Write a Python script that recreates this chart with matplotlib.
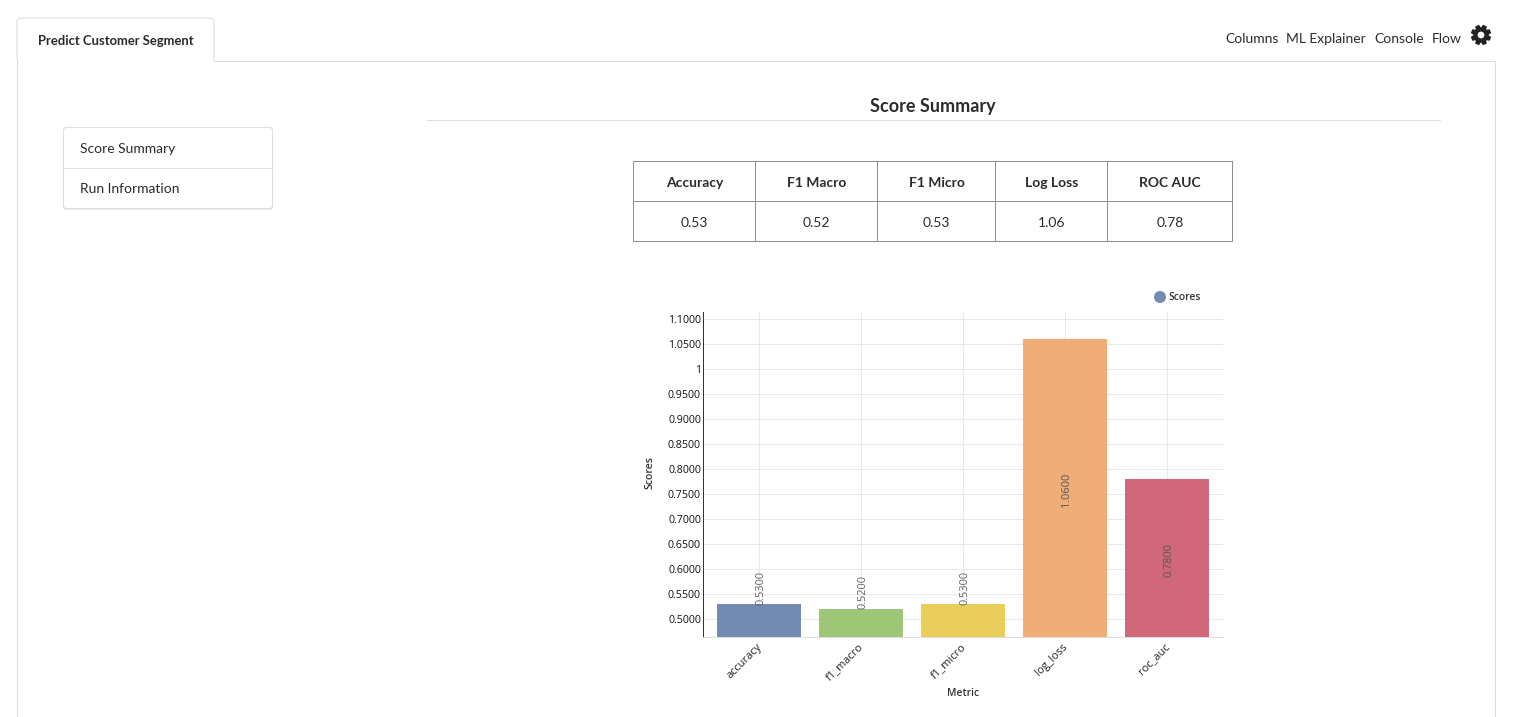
import matplotlib
matplotlib.use("Agg")
import math
import matplotlib.pyplot as plt
from matplotlib.patches import FancyBboxPatch, Circle, PathPatch
from matplotlib.path import Path

metrics = ["accuracy", "f1_macro", "f1_micro", "log_loss", "roc_auc"]
scores = [0.53, 0.52, 0.53, 1.06, 0.78]
bar_colors = ["#738ab1", "#9dc777", "#e9ce5b", "#efad78", "#d0677b"]
y_ticks = [0.50, 0.55, 0.60, 0.65, 0.70, 0.75, 0.80, 0.85, 0.90, 0.95, 1.00, 1.05, 1.10]
y_tick_labels = ["0.5000", "0.5500", "0.6000", "0.6500", "0.7000", "0.7500", "0.8000",
                 "0.8500", "0.9000", "0.9500", "1", "1.0500", "1.1000"]
table_headers = ["Accuracy", "F1 Macro", "F1 Micro", "Log Loss", "ROC AUC"]
table_values = ["0.53", "0.52", "0.53", "1.06", "0.78"]
nav_links = ["Columns", "ML Explainer", "Console", "Flow"]
side_items = ["Score Summary", "Run Information"]

W, H = 1519, 717
fig = plt.figure(figsize=(W / 100, H / 100), dpi=100, facecolor="white")

# Page chrome, in pixel coordinates
ui = fig.add_axes([0, 0, 1, 1])
ui.set_xlim(0, W)
ui.set_ylim(H, 0)
ui.axis("off")
LATO = "Lato"
DARK = "#2b2b2b"
BORDER = "#dddddd"
LW = 0.72

ui.plot([17, 17], [61, H], color=BORDER, lw=LW)
ui.plot([1495, 1495], [61, H], color=BORDER, lw=LW)
ui.plot([214, 1495], [61, 61], color=BORDER, lw=LW)
ui.add_patch(PathPatch(Path(
    [(17, 61), (17, 22), (17, 18), (21, 18), (210, 18), (214, 18), (214, 22), (214, 61)],
    [Path.MOVETO, Path.LINETO, Path.CURVE3, Path.CURVE3, Path.LINETO, Path.CURVE3, Path.CURVE3, Path.LINETO]),
    fc="white", ec=BORDER, lw=LW))
ui.text(38, 41, "Predict Customer Segment", family=LATO, weight="bold", fontsize=9.4,
        color=DARK, va="center", ha="left")

for label, x in zip(nav_links, [1226, 1287, 1374.5, 1432]):
    ui.text(x - 0.5, 39, label, family=LATO, fontsize=10, color=DARK, va="center", ha="left")

# Settings icon
gear_cx, gear_cy, teeth = 1481, 35, 8
verts, codes = [], []
for i in range(teeth):
    a = 2 * math.pi * i / teeth + math.pi / 8
    for da, r in [(-0.36, 7.6), (-0.2, 10.4), (0.2, 10.4), (0.36, 7.6)]:
        verts.append((gear_cx + r * math.cos(a + da), gear_cy + r * math.sin(a + da)))
        codes.append(Path.LINETO if verts[:-1] else Path.MOVETO)
verts.append(verts[0])
codes.append(Path.CLOSEPOLY)
ui.add_patch(PathPatch(Path(verts, codes), fc="#222222", ec="none"))
ui.add_patch(Circle((gear_cx, gear_cy), 3.4, fc="white", ec="none"))

# Sidebar
for off, a in [(3, 0.025), (2, 0.035), (1, 0.05)]:
    ui.add_patch(FancyBboxPatch((64 - off / 2, 128), 208 + off, 80 + off,
                 boxstyle="round,pad=0,rounding_size=3", fc="#000000", ec="none", alpha=a))
ui.add_patch(FancyBboxPatch((63.5, 127.5), 209, 81, boxstyle="round,pad=0,rounding_size=3",
             fc="white", ec="#dedede", lw=LW))
ui.plot([64, 272], [168, 168], color="#e3e3e3", lw=LW)
for label, y in zip(side_items, [149, 189]):
    ui.text(80, y, label, family=LATO, fontsize=10, color=DARK, va="center", ha="left")

# Title
ui.text(933, 106.5, "Score Summary", family=LATO, weight="bold", fontsize=13, color=DARK,
        va="center", ha="center")
ui.plot([427, 1440], [120, 120], color=BORDER, lw=LW)

# Table
col_edges = [633, 755, 877, 995, 1107, 1232]
row_edges = [161, 201, 241]
for x in col_edges:
    ui.plot([x, x], [row_edges[0], row_edges[-1]], color="#8f8f8f", lw=LW)
for y in row_edges:
    ui.plot([col_edges[0], col_edges[-1]], [y, y], color="#8f8f8f", lw=LW)
for i, (h, v) in enumerate(zip(table_headers, table_values)):
    cx = (col_edges[i] + col_edges[i + 1]) / 2
    ui.text(cx + 0.5, 183, h, family=LATO, weight="bold", fontsize=10, color=DARK, va="center", ha="center")
    ui.text(cx + 0.5, 223, v, family=LATO, fontsize=10, color=DARK, va="center", ha="center")

# Legend
ui.add_patch(Circle((1160, 297), 6, fc=bar_colors[0], ec="none"))
ui.text(1168, 297, "Scores", family="Open Sans", fontsize=7.4, weight="semibold", color="#333333",
        va="center", ha="left")

# Chart
left, right, top, bottom = 703, 1223, 312, 637
ax = fig.add_axes([left / W, 1 - bottom / H, (right - left) / W, (bottom - top) / H])
ax.patch.set_alpha(0)
xs = list(range(len(metrics)))
ymin, ymax = 0.4639, 1.1150
ax.bar(xs, scores, width=0.8235, color=bar_colors, edgecolor="none", zorder=3)
ax.set_xlim(-0.549, 4.549)
ax.set_ylim(ymin, ymax)
ax.set_xticks(xs)
ax.set_xticklabels([])
for x, name in zip(xs, metrics):
    ax.annotate(name, xy=(x, 0), xycoords=ax.get_xaxis_transform(), xytext=(-3, -4),
                textcoords="offset pixels", rotation=45, ha="right", va="top",
                rotation_mode="anchor", family="Open Sans", fontsize=7.9, color="#222222",
                annotation_clip=False)
ax.set_yticks(y_ticks)
ax.set_yticklabels(y_tick_labels, family="Open Sans", fontsize=7.7, color="#111111")
ax.tick_params(axis="both", length=0)
ax.tick_params(axis="y", pad=1.5)
ax.grid(True, color="#e8e8e8", lw=LW, zorder=0)
ax.set_axisbelow(True)
for s in ["top", "right"]:
    ax.spines[s].set_visible(False)
ax.spines["left"].set_color("#333333")
ax.spines["left"].set_linewidth(LW)
ax.spines["bottom"].set_color("#dddddd")
ax.spines["bottom"].set_linewidth(LW)

for x, v in zip(xs, scores):
    if v > 0.7:
        ax.text(x + 0.015, (v + ymin) / 2 - 0.003, f"{v:.4f}", rotation=90, ha="center", va="center",
                family="Open Sans", fontsize=7.9, color="#555555", zorder=4)
    else:
        ax.text(x + 0.015, v - 0.001, f"{v:.4f}", rotation=90, ha="center", va="bottom",
                family="Open Sans", fontsize=7.9, color="#666666", zorder=4)

ui.text(650, 473, "Scores", rotation=90, family="Open Sans", fontsize=7.6, weight="semibold",
        color="#333333", va="center", ha="center")
ui.text(963, 694, "Metric", family="Open Sans", fontsize=7.4, weight="semibold", color="#333333",
        va="center", ha="center")

fig.savefig("out.png", dpi=100, facecolor="white")
